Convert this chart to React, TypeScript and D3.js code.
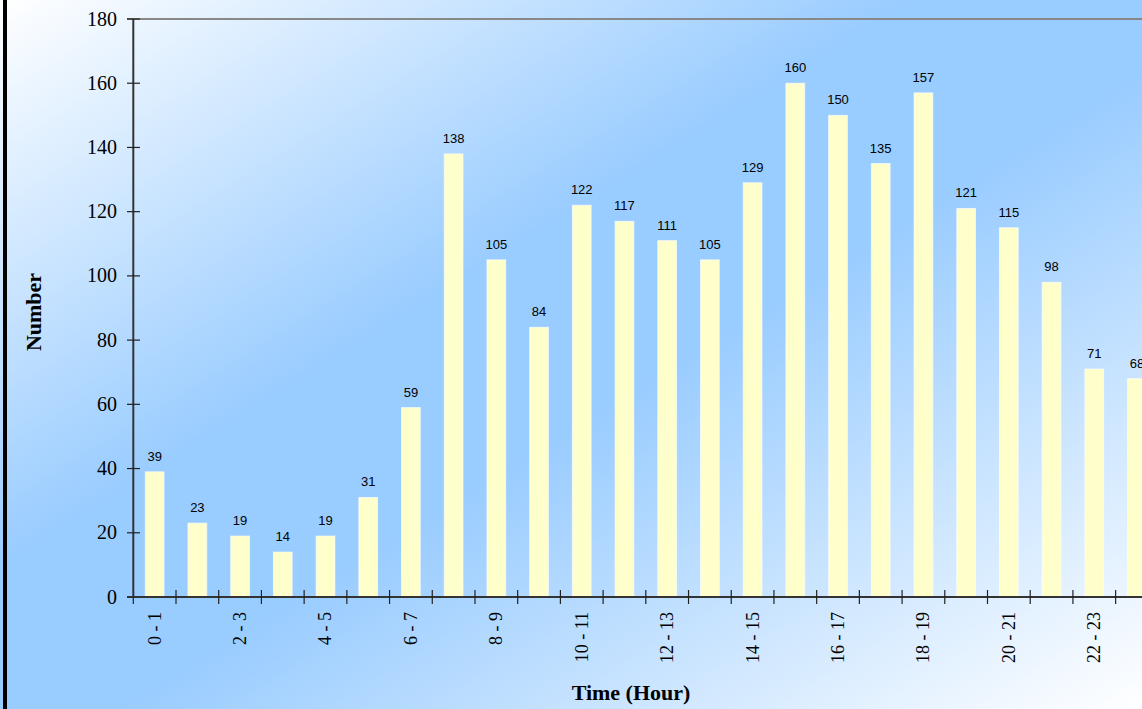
import React from "react";
import * as d3 from "d3";

const categories = [
  "0 - 1","1 - 2","2 - 3","3 - 4","4 - 5","5 - 6","6 - 7","7 - 8","8 - 9","9 - 10","10 - 11","11 - 12",
  "12 - 13","13 - 14","14 - 15","15 - 16","16 - 17","17 - 18","18 - 19","19 - 20","20 - 21","21 - 22","22 - 23","23 - 24",
];
const values = [39,23,19,14,19,31,59,138,105,84,122,117,111,105,129,160,150,135,157,121,115,98,71,68];
const yTicks = [0,20,40,60,80,100,120,140,160,180];

const W = 1142, H = 709;
const left = 133.3, top = 19, bottom = 597;
const bandW = 42.71;
const right = left + bandW * categories.length;

export default function App() {
  const x = d3.scaleBand<string>().domain(categories).range([left, right]).paddingInner(0).paddingOuter(0);
  const y = d3.scaleLinear().domain([0, 180]).range([bottom, top]);
  const bw = x.bandwidth() * 0.44;
  const serif = "'Liberation Serif', 'Times New Roman', serif";
  const sans = "'Liberation Sans', Arial, sans-serif";
  return (
    <svg width={W} height={H} style={{ position: "absolute", left: 0, top: 0 }}>
      <defs>
        <linearGradient id="bg" x1="0" y1="0" x2="1" y2="1">
          <stop offset="0" stopColor="#ffffff" />
          <stop offset="0.4" stopColor="#99ccff" />
          <stop offset="0.55" stopColor="#99ccff" />
          <stop offset="1" stopColor="#ffffff" />
        </linearGradient>
      </defs>
      <rect x={0} y={0} width={W} height={H} fill="url(#bg)" />
      <rect x={3} y={0} width={4} height={H} fill="#000" />
      {/* top border line */}
      <line x1={127} x2={W} y1={top} y2={top} stroke="#888" strokeWidth={2} />
      {/* bars */}
      {values.map((v, i) => {
        const cx = (x(categories[i]) as number) + x.bandwidth() / 2;
        return (
          <g key={i}>
            <rect x={cx - bw / 2} y={y(v)} width={bw} height={bottom - y(v)} fill="#ffffcc" stroke="#ffffff" strokeOpacity={0.6} strokeWidth={1} />
            <text x={cx} y={y(v) - 11} textAnchor="middle" fontFamily={sans} fontSize={13} fill="#000">{v}</text>
          </g>
        );
      })}
      {/* y axis */}
      <line x1={left} x2={left} y1={top} y2={bottom} stroke="#333" strokeWidth={2} />
      {yTicks.map((t) => (
        <g key={t}>
          <line x1={127} x2={140} y1={y(t)} y2={y(t)} stroke="#222" strokeWidth={1.2} />
          <text x={117} y={y(t)} dy="0.33em" textAnchor="end" fontFamily={serif} fontSize={20} fill="#000">{t}</text>
        </g>
      ))}
      {/* x axis */}
      <line x1={127} x2={W} y1={bottom} y2={bottom} stroke="#333" strokeWidth={2} />
      {categories.map((c) => (
        <line key={c} x1={(x(c) as number) + bandW} x2={(x(c) as number) + bandW} y1={590} y2={604} stroke="#222" strokeWidth={1.2} />
      ))}
      <line x1={left} x2={left} y1={597} y2={604} stroke="#222" strokeWidth={1.2} />
      {categories.map((c, i) =>
        i % 2 === 0 ? (
          <text key={c} transform={`translate(${(x(c) as number) + x.bandwidth() / 2},612) rotate(-90)`} dy="0.33em" textAnchor="end" fontFamily={serif} fontSize={18} fill="#000">{c}</text>
        ) : null
      )}
      <text transform="translate(41,312) rotate(-90)" textAnchor="middle" fontFamily={serif} fontSize={22} fontWeight="bold" fill="#000">Number</text>
      <text x={631} y={700} textAnchor="middle" fontFamily={serif} fontSize={22} fontWeight="bold" fill="#000">Time (Hour)</text>
    </svg>
  );
}
